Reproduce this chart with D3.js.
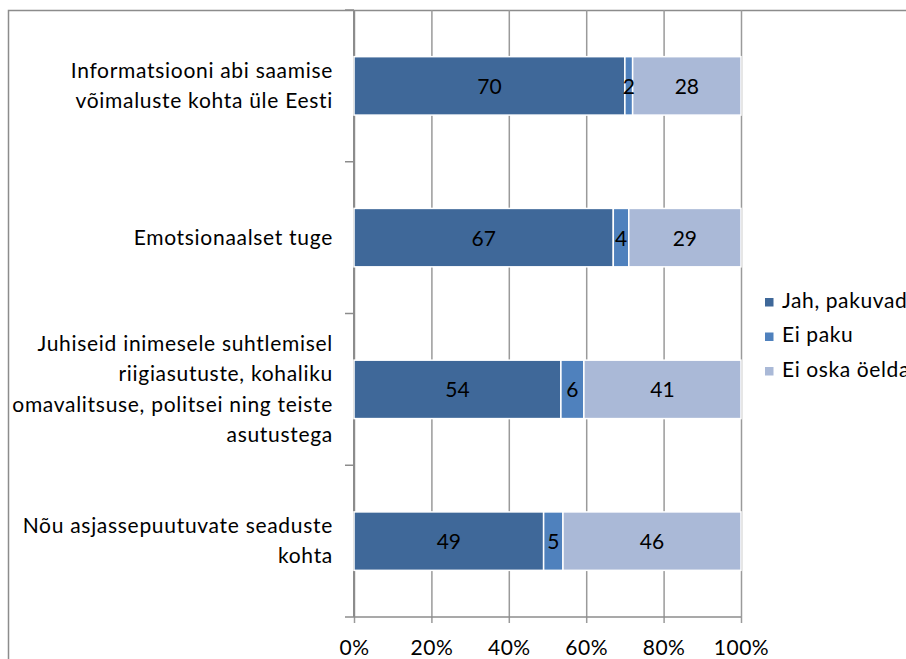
<!DOCTYPE html>
<html>
<head>
<meta charset="utf-8">
<script src="https://cdn.jsdelivr.net/npm/d3@7"></script>
<style>
  body { margin: 0; background: #fff; }
  svg { display: block; font-family: Lato, "Open Sans", sans-serif; }
</style>
</head>
<body>
<div id="chart"></div>
<script>
// categories, top to bottom (lines split by "\n")
const categories = [
  "Informatsiooni abi saamise\nvõimaluste kohta üle Eesti",
  "Emotsionaalset tuge",
  "Juhiseid inimesele suhtlemisel\nriigiasutuste, kohaliku\nomavalitsuse, politsei ning teiste\nasutustega",
  "Nõu asjassepuutuvate seaduste\nkohta"
];
const seriesNames = ["Jah, pakuvad", "Ei paku", "Ei oska öelda"];
const jah = [70, 67, 54, 49];
const eiPaku = [2, 4, 6, 5];
const eiOska = [28, 29, 41, 46];
const xTicks = [0, 0.2, 0.4, 0.6, 0.8, 1];
const colors = ["#3F6899", "#4F81BD", "#AAB9D7"];

const width = 906, height = 659;
const plot = { left: 354, right: 741, top: 10, bottom: 617 };

const svg = d3.select("#chart").append("svg")
  .attr("width", width)
  .attr("height", height);

// outer chart frame (cut off at right and bottom)
svg.append("rect")
  .attr("x", 8.5).attr("y", 10.5)
  .attr("width", 1000).attr("height", 1000)
  .attr("fill", "none")
  .attr("stroke", "#8c8c8c")
  .attr("stroke-width", 1.5);

const x = d3.scaleLinear().domain([0, 1]).range([plot.left, plot.right]);
const y = d3.scaleBand()
  .domain(d3.range(categories.length))
  .range([plot.top, plot.bottom])
  .paddingInner(0.615)
  .paddingOuter(0.3075);

// stacked, normalised to 100%
const rows = categories.map((c, i) => ({ i, v: [jah[i], eiPaku[i], eiOska[i]] }));
rows.forEach(r => {
  const tot = d3.sum(r.v);
  let acc = 0;
  r.segs = r.v.map((v, k) => {
    const s = { k, v, x0: acc / tot, x1: (acc + v) / tot, i: r.i };
    acc += v;
    return s;
  });
});

// vertical gridlines + bottom ticks
svg.append("g")
  .attr("transform", `translate(0,${plot.bottom})`)
  .call(d3.axisBottom(x).tickValues(xTicks).tickSize(-(plot.bottom - plot.top)).tickFormat(d3.format(".0%")).tickPadding(23))
  .call(g => g.select(".domain").remove())
  .call(g => g.selectAll(".tick line").attr("stroke", "#9a9a9a").attr("stroke-width", 1.5).attr("y2", -(plot.bottom - plot.top)).attr("y1", 6))
  .call(g => g.selectAll(".tick text").attr("font-size", 21).attr("fill", "#000").attr("font-family", "Lato").attr("letter-spacing", 0.5));

// y axis line with ticks between bands
const yTickPos = d3.range(categories.length + 1).map(k => plot.top + k * (plot.bottom - plot.top) / categories.length);
const yAx = svg.append("g");
yAx.append("line")
  .attr("x1", plot.left).attr("x2", plot.left)
  .attr("y1", plot.top).attr("y2", plot.bottom)
  .attr("stroke", "#8c8c8c").attr("stroke-width", 2);
yAx.selectAll(".yt").data(yTickPos).enter().append("line")
  .attr("x1", plot.left - 9).attr("x2", plot.left)
  .attr("y1", d => d).attr("y2", d => d)
  .attr("stroke", "#8c8c8c").attr("stroke-width", 1.5);
// bottom axis line
yAx.append("line")
  .attr("x1", plot.left).attr("x2", plot.right)
  .attr("y1", plot.bottom).attr("y2", plot.bottom)
  .attr("stroke", "#8c8c8c").attr("stroke-width", 1.5);

// bars
const segs = rows.flatMap(r => r.segs);
svg.append("g").selectAll("rect").data(segs).enter().append("rect")
  .attr("x", d => x(d.x0))
  .attr("y", d => y(d.i))
  .attr("width", d => x(d.x1) - x(d.x0))
  .attr("height", y.bandwidth())
  .attr("fill", d => colors[d.k])
  .attr("stroke", "#fff")
  .attr("stroke-width", 1.5);

// data labels
svg.append("g").selectAll("text").data(segs).enter().append("text")
  .attr("x", d => x((d.x0 + d.x1) / 2))
  .attr("y", d => y(d.i) + y.bandwidth() / 2 + 8)
  .attr("text-anchor", "middle")
  .attr("font-size", 21)
  .text(d => d.v);

// category labels
const catG = svg.append("g");
categories.forEach((c, i) => {
  const lines = c.split("\n");
  const lh = 30.5;
  const cy = y(i) + y.bandwidth() / 2;
  const t = catG.append("text")
    .attr("text-anchor", "end")
    .attr("font-size", 21)
    .attr("letter-spacing", 0.7);
  lines.forEach((ln, j) => {
    t.append("tspan")
      .attr("x", 333)
      .attr("y", cy + (j - (lines.length - 1) / 2) * lh + 7)
      .text(ln);
  });
});

// legend
const leg = svg.append("g").attr("transform", "translate(765,298)");
seriesNames.forEach((s, k) => {
  const g = leg.append("g").attr("transform", `translate(0,${k * 34.5})`);
  g.append("rect").attr("width", 8.5).attr("height", 8.5).attr("fill", colors[k]);
  g.append("text").attr("x", 17).attr("y", 9.5).attr("font-size", 21).attr("letter-spacing", 0.6).text(s);
});
</script>
</body>
</html>
